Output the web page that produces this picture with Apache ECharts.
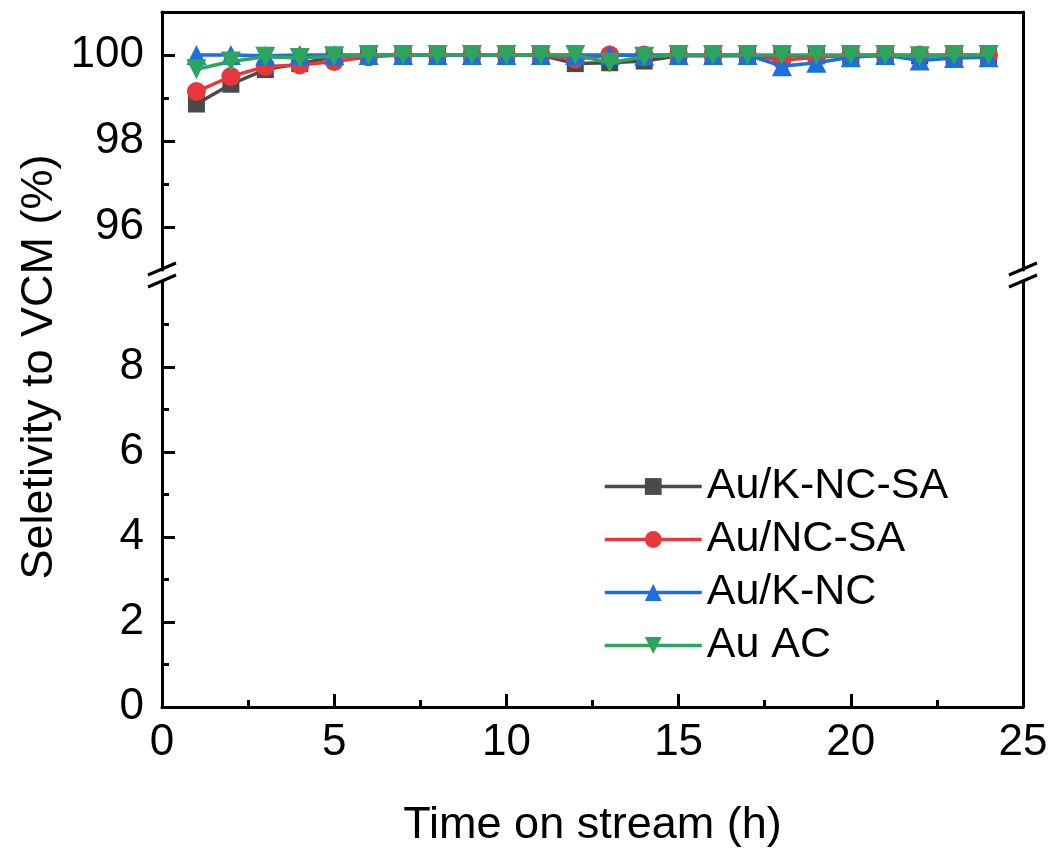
<!DOCTYPE html>
<html>
<head>
<meta charset="utf-8">
<script src="https://cdn.jsdelivr.net/npm/echarts@6/dist/echarts.min.js"></script>
<style>
html,body{margin:0;padding:0;background:#fff;}
#chart{width:1053px;height:854px;}
</style>
</head>
<body>
<div id="chart"></div>
<script>
// ---- data ----
var hours = [1,2,3,4,5,6,7,8,9,10,11,12,13,14,15,16,17,18,19,20,21,22,23,24];
var seriesNames = ['Au/K-NC-SA','Au/NC-SA','Au/K-NC','Au AC'];
var auKNCSA = [98.86,99.32,99.66,99.80,99.96,100,100,100,100,100,100,99.80,99.82,99.86,99.98,99.98,99.98,99.98,99.98,99.98,99.98,99.98,99.98,99.98];
var auNCSA  = [99.15,99.50,99.73,99.77,99.85,99.96,100,100,100,100,100,99.90,100,100,100,100,100,99.88,99.95,100,100,100,100,100];
var auKNC   = [100,100,99.98,100,100,100,100,100,100,100,100,100,100,99.98,100,100,100,99.74,99.82,99.95,100,99.87,99.93,99.95];
var auAC    = [99.67,99.85,99.96,99.93,99.97,100,100,100,100,100,100,100,99.82,99.96,100,100,100,100,100,100,100,99.97,100,100];
var upperMajor = [96,98,100];
var upperMinor = [97,99];
var lowerMajor = [0,2,4,6,8];
var lowerMinor = [1,3,5,7,9];
var xTitle = 'Time on stream (h)';
var yTitle = 'Seletivity to VCM (%)';

var FONT = 'Liberation Sans, Arial, sans-serif';
var colors = ['#4a4a4a','#e8373c','#1c6fdc','#2ea55e'];
var symbols = ['rect','circle','triangle','triangle'];
var rotates = [0,0,0,180];
var sizes = [17,19,20,20];
var allData = [auKNCSA, auNCSA, auKNC, auAC];

function pairs(arr){ return hours.map(function(h,i){ return [h, arr[i]]; }); }

var series = seriesNames.map(function(n,i){
  return {
    name:n, type:'line', xAxisIndex:0, yAxisIndex:0,
    data: pairs(allData[i]),
    symbol: symbols[i], symbolSize: sizes[i], symbolRotate: rotates[i],
    itemStyle:{color:colors[i]},
    lineStyle:{color:colors[i], width:3.5},
    z: 2+i
  };
});

var chart = echarts.init(document.getElementById('chart'), null, {renderer:'canvas'});
var GL = 162, GR = 1053-1023;
chart.setOption({
  animation:false,
  backgroundColor:'#fff',
  grid:[
    {left:GL, right:GR, top:12, height:258},
    {left:GL, right:GR, top:282, height:425}
  ],
  xAxis:[
    {gridIndex:0, type:'value', min:0, max:25, position:'top',
     axisLine:{show:true, onZero:false, lineStyle:{color:'#000',width:3}},
     axisTick:{show:false}, axisLabel:{show:false}, splitLine:{show:false}},
    {gridIndex:1, type:'value', min:0, max:25, interval:5, position:'bottom',
     axisLine:{show:true, onZero:false, lineStyle:{color:'#000',width:3}},
     axisTick:{show:true, inside:true, length:13, lineStyle:{color:'#000',width:3}},
     minorTick:{show:true, splitNumber:2, length:7, lineStyle:{color:'#000',width:3}},
     axisLabel:{color:'#000', fontSize:44, fontFamily:FONT, margin:14},
     splitLine:{show:false}, minorSplitLine:{show:false},
     name:xTitle, nameLocation:'middle', nameGap:96,
     nameTextStyle:{color:'#000', fontSize:45, fontFamily:FONT}}
  ],
  yAxis:[
    {gridIndex:0, type:'value', min:95, max:101, position:'left',
     axisLine:{show:true, onZero:false, lineStyle:{color:'#000',width:3}},
     axisTick:{show:true, inside:true, length:13, customValues:upperMajor, lineStyle:{color:'#000',width:3}},
     axisLabel:{color:'#000', fontSize:44, fontFamily:FONT, margin:18, customValues:upperMajor},
     splitLine:{show:false}},
    {gridIndex:0, type:'value', min:95, max:101, position:'left',
     axisLine:{show:false},
     axisTick:{show:true, inside:true, length:7, customValues:upperMinor, lineStyle:{color:'#000',width:3}},
     axisLabel:{show:false}, splitLine:{show:false}},
    {gridIndex:0, type:'value', min:95, max:101, position:'right',
     axisLine:{show:true, onZero:false, lineStyle:{color:'#000',width:3}},
     axisTick:{show:false}, axisLabel:{show:false}, splitLine:{show:false}},
    {gridIndex:1, type:'value', min:0, max:10, position:'left',
     axisLine:{show:true, onZero:false, lineStyle:{color:'#000',width:3}},
     axisTick:{show:true, inside:true, length:13, customValues:lowerMajor, lineStyle:{color:'#000',width:3}},
     axisLabel:{color:'#000', fontSize:44, fontFamily:FONT, margin:18, customValues:lowerMajor},
     splitLine:{show:false}},
    {gridIndex:1, type:'value', min:0, max:10, position:'left',
     axisLine:{show:false},
     axisTick:{show:true, inside:true, length:7, customValues:lowerMinor, lineStyle:{color:'#000',width:3}},
     axisLabel:{show:false}, splitLine:{show:false}},
    {gridIndex:1, type:'value', min:0, max:10, position:'right',
     axisLine:{show:true, onZero:false, lineStyle:{color:'#000',width:3}},
     axisTick:{show:false}, axisLabel:{show:false}, splitLine:{show:false}}
  ],
  legend:{
    orient:'vertical', left:598, top:460,
    itemWidth:97, itemHeight:21, itemGap:10,
    lineStyle:{width:3.5},
    textStyle:{color:'#000', fontSize:43, fontFamily:FONT, lineHeight:43, padding:[0,0,0,0]},
    data:seriesNames
  },
  graphic:[
    {type:'text', x:40, y:367, rotation:Math.PI/2,
     style:{text:yTitle, fill:'#000', font:'45px '+FONT, textAlign:'center', textVerticalAlign:'middle'}},
    {type:'line', shape:{x1:148,y1:275,x2:176,y2:263}, style:{stroke:'#000',lineWidth:3}},
    {type:'line', shape:{x1:148,y1:287,x2:176,y2:275}, style:{stroke:'#000',lineWidth:3}},
    {type:'line', shape:{x1:1009,y1:275,x2:1037,y2:263}, style:{stroke:'#000',lineWidth:3}},
    {type:'line', shape:{x1:1009,y1:287,x2:1037,y2:275}, style:{stroke:'#000',lineWidth:3}}
  ],
  series:series
});
</script>
</body>
</html>
